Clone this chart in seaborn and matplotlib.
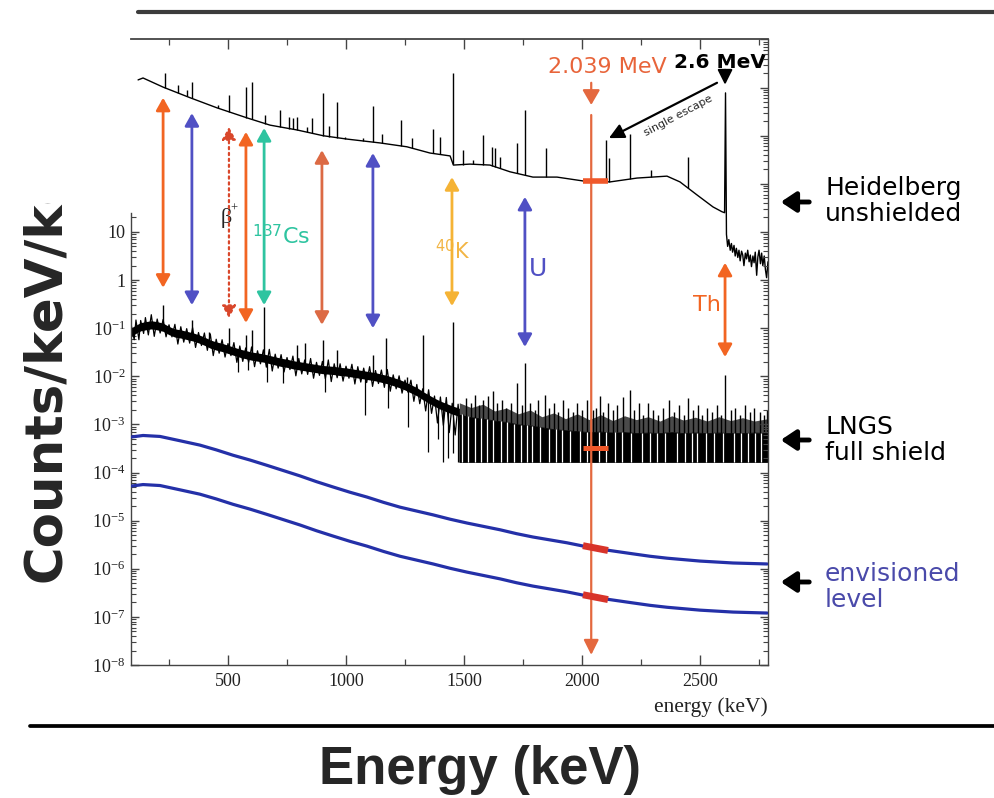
import numpy as np
import matplotlib
matplotlib.use("Agg")
import matplotlib.pyplot as plt
import seaborn as sns
from matplotlib.ticker import FixedLocator, FixedFormatter, LogLocator, NullFormatter
from matplotlib.patches import Rectangle, FancyArrowPatch
from matplotlib.lines import Line2D

# ---------------- data (y values as log10 exponents) ----------------
# Heidelberg unshielded spectrum: continuum points
heid_e = [119, 140, 225, 339, 453, 581, 678, 792, 903, 1004, 1144, 1258, 1356, 1441, 1455, 1525,
          1610, 1695, 1792, 1894, 2004, 2119, 2233, 2360, 2415, 2487, 2555, 2593, 2604, 2608,
          2612, 2617, 2622, 2628, 2633, 2638, 2644, 2649, 2654, 2660, 2665, 2670, 2676, 2681,
          2686, 2692, 2697, 2702, 2708, 2713, 2718, 2724, 2729, 2734, 2740, 2745, 2750, 2756,
          2761, 2766, 2772, 2777, 2782, 2788]
heid_exp = [4.16, 4.20, 4.01, 3.79, 3.58, 3.37, 3.22, 3.12, 3.00, 2.93, 2.85, 2.77, 2.64, 2.58, 2.39, 2.41,
            2.39, 2.25, 2.14, 2.14, 2.06, 2.04, 2.12, 2.16, 2.04, 1.77, 1.52, 1.42, 1.40, 3.89,
            0.95, 0.70, 0.84, 0.62, 0.76, 0.58, 0.72, 0.50, 0.66, 0.47, 0.62, 0.40, 0.60, 0.52,
            0.30, 0.56, 0.44, 0.62, 0.38, 0.52, 0.28, 0.50, 0.36, 0.58, 0.10, 0.48, 0.62, 0.34,
            0.56, 0.30, 0.50, 0.22, 0.05, 0.38]
# Heidelberg gamma lines: energy and peak top
heid_peak_e = [233, 288, 326, 347, 458, 504, 576, 602, 657, 720, 758, 775, 792, 835, 856, 903, 928,
               962, 996, 1072, 1114, 1153, 1233, 1280, 1369, 1398, 1453, 1496, 1538, 1580, 1619,
               1631, 1653, 1725, 1758, 1847, 2102, 2114, 2203, 2292, 2449]
heid_peak_exp = [4.31, 4.06, 3.95, 4.12, 3.64, 3.85, 4.01, 4.12, 3.43, 3.54, 3.39, 3.37, 3.39, 3.18,
                 3.37, 3.89, 3.20, 3.70, 2.98, 2.95, 3.62, 3.04, 3.33, 2.95, 3.14, 2.98, 4.31, 2.70,
                 2.50, 3.02, 2.77, 2.75, 2.56, 2.85, 3.54, 2.75, 2.91, 2.54, 3.04, 2.29, 2.56]

# LNGS full shield spectrum: noisy continuum (centre and noise envelope)
lngs_e = [90, 110, 130, 150, 175, 200, 225, 250, 275, 300, 325, 350, 375, 400, 425, 450, 475, 500,
          525, 550, 575, 600, 625, 650, 675, 700, 725, 750, 775, 800, 825, 850, 875, 900, 925, 950,
          975, 1000, 1025, 1050, 1075, 1100, 1125, 1150, 1175, 1200, 1225, 1250, 1275, 1300, 1325,
          1350, 1375, 1400, 1425, 1450, 1475, 1500]
lngs_mid_exp = [-1.08, -1.02, -0.97, -0.95, -0.93, -0.95, -0.98, -1.05, -1.10, -1.12, -1.15, -1.18,
                -1.22, -1.27, -1.33, -1.37, -1.40, -1.44, -1.48, -1.52, -1.55, -1.58, -1.60, -1.62,
                -1.65, -1.68, -1.71, -1.73, -1.76, -1.78, -1.80, -1.82, -1.84, -1.86, -1.87, -1.88,
                -1.90, -1.91, -1.93, -1.95, -1.97, -1.99, -2.01, -2.04, -2.07, -2.11, -2.15, -2.20,
                -2.26, -2.32, -2.40, -2.47, -2.54, -2.60, -2.65, -2.70, -2.74, -2.80]
lngs_hi_exp = [-0.94, -0.83, -0.84, -0.78, -0.72, -0.81, -0.82, -0.93, -0.92, -0.97, -1.01, -0.99,
               -1.09, -1.10, -1.12, -1.23, -1.24, -1.32, -1.30, -1.37, -1.41, -1.39, -1.47, -1.45,
               -1.44, -1.54, -1.55, -1.61, -1.58, -1.63, -1.66, -1.63, -1.71, -1.69, -1.66, -1.74,
               -1.74, -1.79, -1.75, -1.80, -1.83, -1.80, -1.88, -1.87, -1.86, -1.97, -1.99, -2.08,
               -2.08, -2.17, -2.26, -2.28, -2.41, -2.43, -2.44, -2.56, -2.58, -2.65]
lngs_lo_exp = [-1.24, -1.24, -1.11, -1.14, -1.17, -1.10, -1.18, -1.18, -1.33, -1.29, -1.31, -1.40,
               -1.36, -1.46, -1.57, -1.52, -1.60, -1.57, -1.71, -1.69, -1.71, -1.80, -1.74, -1.81,
               -1.89, -1.83, -1.91, -1.86, -1.99, -1.95, -1.96, -2.04, -1.98, -2.05, -2.11, -2.03,
               -2.10, -2.04, -2.16, -2.12, -2.13, -2.21, -2.15, -2.23, -2.31, -2.26, -2.35, -2.33,
               -2.52, -2.57, -2.72, -2.77, -2.97, -3.02, -3.17, -3.22, -3.32, -3.27]
# LNGS high-energy region: dense band, sparser zone above it, and the plotted floor
band_e = [1480, 1530, 1580, 1630, 1680, 1730, 1780, 1830, 1880, 1930, 1980, 2030, 2080, 2130,
          2180, 2230, 2280, 2330, 2380, 2430, 2480, 2530, 2580, 2630, 2680, 2730, 2788]
band_hi_exp = [-2.80, -2.85, -2.88, -2.92, -2.95, -3.00, -3.02, -3.06, -3.10, -3.12, -3.14, -3.16,
               -3.15, -3.17, -3.16, -3.18, -3.17, -3.18, -3.16, -3.18, -3.17, -3.18, -3.17, -3.18,
               -3.18, -3.17, -3.18]
band_sparse_exp = [-2.55, -2.65, -2.58, -2.72, -2.66, -2.78, -2.70, -2.84, -2.76, -2.88, -2.78,
                   -2.90, -2.80, -2.92, -2.82, -2.90, -2.84, -2.93, -2.82, -2.91, -2.85, -2.93,
                   -2.84, -2.92, -2.86, -2.93, -2.88]
lngs_floor_exp = -3.78
# LNGS lines sticking up out of the continuum
lngs_peak_e = [225, 347, 420, 504, 576, 602, 653, 792, 826, 903, 962, 1114, 1170, 1258, 1326, 1453,
               1510, 1530, 1545, 1565, 1580, 1600, 1623, 1640, 1660, 1680, 1700, 1725, 1745, 1758,
               1780, 1800, 1815, 1843, 1860, 1880, 1900, 1920, 1940, 1960, 1980, 2000, 2020, 2045,
               2060, 2076, 2090, 2110, 2130, 2150, 2174, 2203, 2220, 2240, 2260, 2280, 2300, 2320,
               2345, 2370, 2390, 2410, 2430, 2450, 2470, 2490, 2510, 2530, 2550, 2570, 2590, 2606,
               2630, 2650, 2670, 2690, 2710, 2730, 2754, 2770, 2785]
lngs_peak_exp = [-0.52, -0.83, -1.08, -1.00, -1.14, -1.04, -0.56, -1.35, -1.31, -1.25, -1.45, -1.56,
                 -1.20, -2.01, -1.14, -0.87,
                 -2.45, -2.55, -2.38, -2.60, -2.50, -2.40, -2.30, -2.55, -2.50, -2.65, -2.55, -2.14,
                 -2.60, -1.72, -2.55, -2.70, -2.50, -2.39, -2.65, -2.55, -2.75, -2.50, -2.65, -2.75,
                 -2.55, -2.70, -2.50, -2.70, -2.65, -2.40, -2.75, -2.55, -2.70, -2.60, -2.43, -2.28,
                 -2.70, -2.55, -2.80, -2.55, -2.70, -2.80, -2.65, -2.50, -2.75, -2.60, -2.80, -2.45,
                 -2.70, -2.60, -2.80, -2.65, -2.75, -2.60, -2.80, -1.97, -2.70, -2.65, -2.80, -2.60,
                 -2.75, -2.65, -2.75, -2.80, -2.70]
# LNGS downward fluctuations
lngs_dip_e = [542, 585, 665, 733, 911, 1081, 1178, 1263, 1347, 1390, 1410, 1432, 1455, 1475, 1496]
lngs_dip_exp = [-1.91, -1.87, -2.12, -2.14, -2.33, -2.80, -2.66, -3.05, -3.57, -3.30, -3.78, -3.70,
                -3.60, -3.78, -3.78]
# white gaps inside the dense band
lngs_gap_e = [1492, 1518, 1547, 1571, 1598, 1622, 1655, 1683, 1712, 1741, 1768, 1790, 1821, 1862,
              1890, 1915, 1947, 1990, 2022, 2072, 2101, 2140, 2171, 2208, 2255, 2290, 2318, 2350,
              2402, 2437, 2465, 2488, 2525, 2560, 2597, 2645, 2675, 2702, 2735, 2760]

# envisioned levels (two smooth curves)
env_e = [93, 140, 212, 297, 381, 451, 521, 593, 665, 735, 805, 875, 945, 1017, 1089, 1159, 1229,
         1299, 1369, 1441, 1513, 1583, 1653, 1722, 1792, 1864, 1936, 2047, 2131, 2216, 2288, 2360,
         2430, 2500, 2570, 2640, 2712, 2784]
env_hi_exp = [-3.26, -3.23, -3.25, -3.34, -3.43, -3.53, -3.64, -3.74, -3.85, -3.96, -4.07, -4.19,
              -4.30, -4.41, -4.51, -4.62, -4.72, -4.80, -4.88, -4.97, -5.05, -5.12, -5.19, -5.27,
              -5.34, -5.40, -5.46, -5.57, -5.63, -5.69, -5.74, -5.78, -5.81, -5.84, -5.86, -5.88,
              -5.89, -5.90]
env_lo_exp = [-4.28, -4.25, -4.27, -4.36, -4.45, -4.55, -4.66, -4.76, -4.87, -4.98, -5.09, -5.21,
              -5.32, -5.43, -5.53, -5.64, -5.74, -5.82, -5.90, -5.99, -6.07, -6.14, -6.21, -6.29,
              -6.36, -6.42, -6.48, -6.59, -6.65, -6.71, -6.76, -6.80, -6.83, -6.86, -6.88, -6.90,
              -6.91, -6.92]

# Q-value marker 2039 keV and level bars on each spectrum
q_e = 2039
q_line_exp = [3.43, -7.79]
q_arrow_exp = [4.10, 3.64]
bar_e = [2004, 2110]
heid_bar_exp = [2.05, 2.05]
lngs_bar_exp = [-3.49, -3.49]
env_hi_bar_exp = [-5.52, -5.62]
env_lo_bar_exp = [-6.54, -6.64]

# background line arrows
arrow_e = [225, 347, 504, 576, 653, 898, 1114, 1449, 1758, 2606]
arrow_top_exp = [3.79, 3.47, 3.18, 3.08, 3.16, 2.70, 2.64, 2.14, 1.73, 0.36]
arrow_bot_exp = [-0.16, -0.52, -0.79, -0.89, -0.52, -0.93, -1.00, -0.54, -1.39, -1.60]
arrow_col = ["#F26522", "#5050C4", "#D9472B", "#F26522", "#2EC4A0", "#DC6A44", "#5050C4",
             "#F5B335", "#5050C4", "#F26522"]
arrow_ls = ["-", "-", ":", "-", "-", "-", "-", "-", "-", "-"]

xticks = [500, 1000, 1500, 2000, 2500]
xminor = [250, 750, 1250, 1750, 2250, 2750]
yticks_exp = [-8, -7, -6, -5, -4, -3, -2, -1, 0, 1]
ytick_labels = [r"$\mathregular{10^{-8}}$", r"$\mathregular{10^{-7}}$", r"$\mathregular{10^{-6}}$",
                r"$\mathregular{10^{-5}}$", r"$\mathregular{10^{-4}}$", r"$\mathregular{10^{-3}}$",
                r"$\mathregular{10^{-2}}$", r"$\mathregular{10^{-1}}$", "1", "10"]

# ---------------- style ----------------
sns.set_theme(style="white")
plt.rcParams["font.family"] = ["DejaVu Sans"]
plt.rcParams["mathtext.fontset"] = "custom"
plt.rcParams["mathtext.rm"] = "Liberation Serif"
plt.rcParams["mathtext.it"] = "Liberation Serif:italic"
plt.rcParams["mathtext.bf"] = "Liberation Serif:bold"
plt.rcParams["mathtext.sf"] = "DejaVu Sans"

W, H = 994, 798
fig = plt.figure(figsize=(W / 100, H / 100), dpi=100)
fig.patch.set_facecolor("white")


def fx(px):
    return px / W


def fy(py):
    return 1 - py / H


ax = fig.add_axes([fx(131), fy(665), fx(768) - fx(131), fy(39) - fy(665)])
ax.set_facecolor("none")
ax.set_yscale("log")
ax.set_xlim(89, 2788)
ax.set_ylim(1e-8, 10 ** 5.01)


def p(a):
    return 10.0 ** np.asarray(a, dtype=float)


# Heidelberg spectrum
sns.lineplot(x=heid_e, y=p(heid_exp), ax=ax, color="black", lw=1.0, sort=False, legend=False, zorder=3)
heid_base = np.interp(heid_peak_e, heid_e[:28], heid_exp[:28])
ax.vlines(heid_peak_e, p(heid_base), p(heid_peak_exp), color="black", lw=1.0, zorder=3)

# LNGS spectrum: solid core + hairy noise
core = 0.085
ax.fill_between(lngs_e, p(np.array(lngs_mid_exp) - core), p(np.array(lngs_mid_exp) + core),
                color="black", lw=0, zorder=2)
zig_e = np.ravel(np.column_stack([lngs_e, np.asarray(lngs_e) + 12.5]))
zig_exp = np.ravel(np.column_stack([lngs_hi_exp, lngs_lo_exp]))
sns.lineplot(x=zig_e, y=p(zig_exp), ax=ax, color="black", lw=0.9, sort=False, legend=False, zorder=2)
ax.fill_between(band_e, p(band_hi_exp), p(band_sparse_exp), color="#4a4a4a", lw=0, zorder=2)
ax.fill_between(band_e, p([lngs_floor_exp] * len(band_e)), p(band_hi_exp), color="black", lw=0.6, zorder=2)
all_e = lngs_e + band_e[1:]
all_hi = lngs_mid_exp + band_hi_exp[1:]
ax.vlines(lngs_peak_e, p(np.interp(lngs_peak_e, all_e, all_hi)), p(lngs_peak_exp),
          color="black", lw=1.0, zorder=2)
ax.vlines(lngs_dip_e, p(lngs_dip_exp), p(np.interp(lngs_dip_e, all_e, all_hi)),
          color="black", lw=0.9, zorder=2)
ax.vlines(lngs_gap_e, p(lngs_floor_exp), p(np.interp(lngs_gap_e, all_e, all_hi)),
          color="white", lw=0.9, zorder=2)

# envisioned levels
sns.lineplot(x=env_e, y=p(env_hi_exp), ax=ax, color="#2430A8", lw=2.3, legend=False, zorder=3)
sns.lineplot(x=env_e, y=p(env_lo_exp), ax=ax, color="#2430A8", lw=2.3, legend=False, zorder=3)

# double-headed arrows
for e, t, b, c, ls in zip(arrow_e, arrow_top_exp, arrow_bot_exp, arrow_col, arrow_ls):
    ax.annotate("", xy=(e, 10 ** b), xytext=(e, 10 ** t),
                arrowprops=dict(arrowstyle="<|-|>,head_length=0.5,head_width=0.28", color=c,
                                lw=2.0 if ls == "-" else 1.6, linestyle=ls, mutation_scale=15,
                                shrinkA=0, shrinkB=0), zorder=4)

# 2039 keV marker
qc = "#E4683E"
ax.annotate("", xy=(q_e, 10 ** q_line_exp[1]), xytext=(q_e, 10 ** q_line_exp[0]),
            arrowprops=dict(arrowstyle="-|>,head_length=0.6,head_width=0.3", color=qc, lw=1.6,
                            mutation_scale=15, shrinkA=0, shrinkB=0), zorder=6)
ax.annotate("", xy=(q_e, 10 ** q_arrow_exp[1]), xytext=(q_e, 10 ** q_arrow_exp[0]),
            arrowprops=dict(arrowstyle="-|>,head_length=0.6,head_width=0.35", color=qc, lw=1.6,
                            mutation_scale=15, shrinkA=0, shrinkB=0), zorder=6)
ax.plot(bar_e, p(heid_bar_exp), color="#F0582A", lw=4, solid_capstyle="butt", zorder=7)
ax.plot(bar_e, p(lngs_bar_exp), color="#F0582A", lw=3.6, solid_capstyle="butt", zorder=7)
ax.plot(bar_e, p(env_hi_bar_exp), color="#D8342A", lw=5, solid_capstyle="butt", zorder=7)
ax.plot(bar_e, p(env_lo_bar_exp), color="#D8342A", lw=5, solid_capstyle="butt", zorder=7)

ax.text(2106, 10 ** 4.43, "2.039 MeV", color="#E8643A", fontsize=16, ha="center", va="center")
ax.text(2585, 10 ** 4.53, "2.6 MeV", color="black", fontsize=14.5, fontweight="bold",
        ha="center", va="center")
ax.annotate("", xy=(2606, 10 ** 4.06), xytext=(2606, 10 ** 4.37),
            arrowprops=dict(arrowstyle="-|>,head_length=0.6,head_width=0.3", color="black", lw=1.5,
                            mutation_scale=15, shrinkA=0, shrinkB=0), zorder=6)
ax.annotate("", xy=(2114, 10 ** 2.95), xytext=(2572, 10 ** 4.10),
            arrowprops=dict(arrowstyle="-|>,head_length=0.6,head_width=0.3", color="black", lw=1.6,
                            mutation_scale=15, shrinkA=0, shrinkB=0), zorder=6)
ax.text(2407, 10 ** 3.41, "single escape", fontsize=8, rotation=28, ha="center", va="center",
        rotation_mode="anchor")

# arrow labels
ax.text(494, 10 ** 1.30, "\u03b2", fontsize=16, family="Liberation Serif", ha="center", va="center",
        color="#222222")
ax.text(527, 10 ** 1.48, "+", fontsize=9, family="Liberation Serif", ha="center", va="center",
        color="#222222")
ax.text(600, 10 ** 0.94, r"$^{\mathsf{137}}$Cs", fontsize=16, color="#2EC4A0", ha="left", va="center")
ax.text(1377, 10 ** 0.62, r"$^{\mathsf{40}}$K", fontsize=15, color="#F2B544", ha="left", va="center")
ax.text(1814, 10 ** 0.23, "U", fontsize=18, color="#5050C4", ha="center", va="center")
ax.text(2530, 10 ** -0.52, "Th", fontsize=16, color="#F26522", ha="center", va="center")

# axes styling
for s in ["top", "right", "bottom", "left"]:
    ax.spines[s].set_color("#444444")
    ax.spines[s].set_linewidth(1.0)
ax.spines["top"].set_linewidth(1.3)
ax.spines["left"].set_bounds(1e-8, 24.8)
ax.xaxis.set_major_locator(FixedLocator(xticks))
ax.xaxis.set_minor_locator(FixedLocator(xminor))
ax.yaxis.set_major_locator(FixedLocator([10.0 ** k for k in yticks_exp]))
ax.yaxis.set_major_formatter(FixedFormatter(ytick_labels))
ax.yaxis.set_minor_locator(FixedLocator([m * 10.0 ** k for k in range(-8, 1) for m in range(2, 10)] + [20.0]))
ax.yaxis.set_minor_formatter(NullFormatter())
ax.tick_params(axis="x", which="both", direction="in", top=True, bottom=True, color="#444444",
               labelsize=13, pad=6, labelfontfamily="Liberation Serif", labelcolor="#222222")
ax.tick_params(axis="x", which="major", length=7, width=1.0)
ax.tick_params(axis="x", which="minor", length=4.5, width=0.9)
ax.tick_params(axis="y", which="both", direction="in", left=True, right=False, color="#444444",
               labelsize=13, pad=4, labelfontfamily="Liberation Serif", labelcolor="#222222")
ax.tick_params(axis="y", which="major", length=6, width=1.0)
ax.tick_params(axis="y", which="minor", length=3.5, width=0.8)

ax2 = ax.twinx()
ax2.set_yscale("log")
ax2.set_ylim(ax.get_ylim())
ax2.yaxis.set_major_locator(LogLocator(base=10, numticks=30))
ax2.yaxis.set_minor_locator(LogLocator(base=10, subs=np.arange(2, 10), numticks=300))
ax2.yaxis.set_major_formatter(NullFormatter())
ax2.yaxis.set_minor_formatter(NullFormatter())
ax2.tick_params(axis="y", which="both", direction="in", right=True, left=False, color="#444444",
                labelright=False)
ax2.tick_params(axis="y", which="major", length=6, width=1.0)
ax2.tick_params(axis="y", which="minor", length=3.5, width=0.8)
for s in ax2.spines.values():
    s.set_visible(False)

fig.text(fx(768), fy(707), "energy (keV)", fontsize=15.5, family="Liberation Serif",
         ha="right", va="center", color="#222222")

# slide-level decoration and labels
fig.add_artist(Line2D([fx(138), 1.0], [fy(11.5)] * 2, color="#3c3c3c", lw=3.0))
fig.add_artist(Line2D([fx(30), 1.0], [fy(726)] * 2, color="black", lw=2.7))
fig.text(fx(480), fy(770), "Energy (keV)", fontsize=38, fontweight="bold",
         family="Liberation Sans", ha="center", va="center")
fig.text(fx(47), fy(582), "Counts/keV/kg", fontsize=37, fontweight="bold", rotation=90,
         ha="center", va="bottom", zorder=3)
fig.add_artist(Rectangle((0, fy(203)), fx(130), 1 - fy(203), transform=fig.transFigure,
                         facecolor="white", edgecolor="none", zorder=5))

for py, txt, col in [(201, "Heidelberg\nunshielded", "black"), (440, "LNGS\nfull shield", "black"),
                     (587, "envisioned\nlevel", "#4A4AAA")]:
    fig.text(fx(825), fy(py), txt, fontsize=18, color=col, ha="left", va="center", linespacing=1.15)
for py in [202, 440, 582]:
    fig.add_artist(FancyArrowPatch(
        (fx(812), fy(py)), (fx(778), fy(py)), transform=fig.transFigure,
        arrowstyle="-|>,head_length=0.6,head_width=0.4", mutation_scale=15, lw=3.5, color="black"))

fig.savefig("out.png", dpi=100, facecolor="white")
